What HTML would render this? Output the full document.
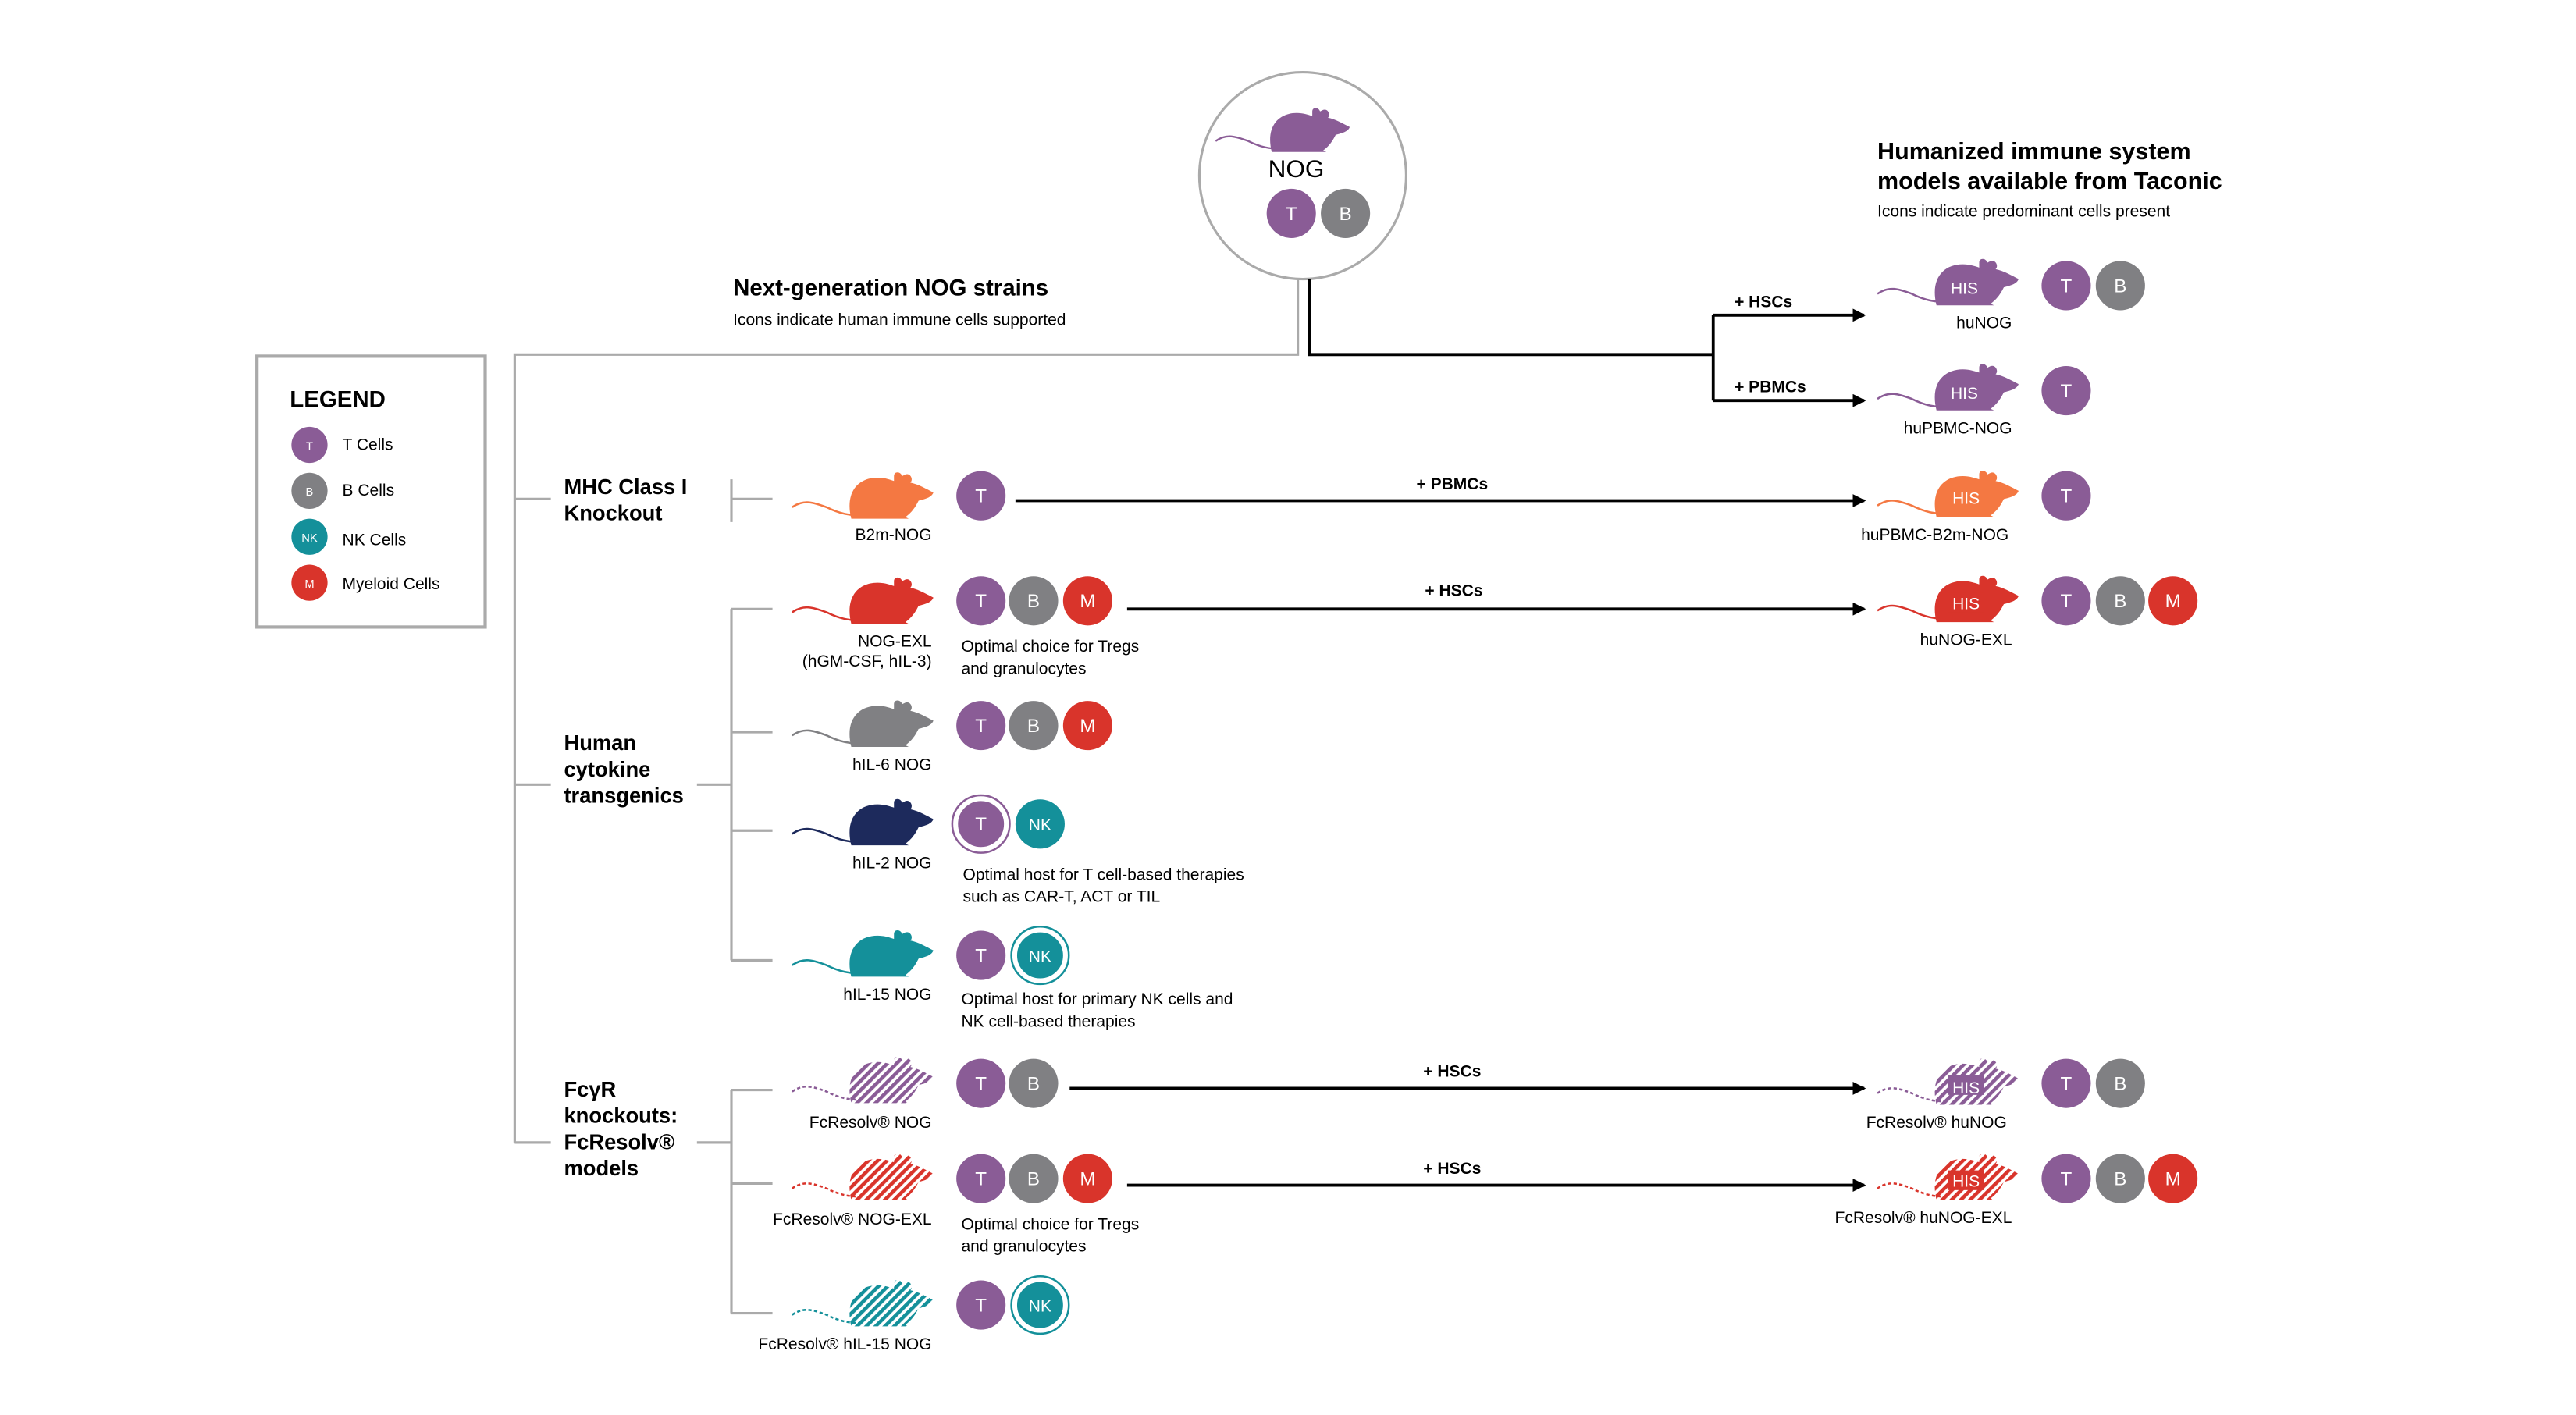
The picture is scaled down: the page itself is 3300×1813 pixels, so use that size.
<!DOCTYPE html>
<html><head><meta charset="utf-8"><style>
html,body{margin:0;padding:0;background:#fff}
svg{display:block}
text{font-family:"Liberation Sans",sans-serif}
</style></head><body>
<svg width="3300" height="1813" viewBox="0 0 1568 862" xmlns="http://www.w3.org/2000/svg">
<defs>
<g id="mouse">
<path d="M2,21 C9,16 15,18 23,21 C31,25 37,26 44,26" fill="none" stroke-width="1.2"/>
<path stroke="none" d="M38,28 C34,12 42,3 54,3 C58,3 61,4 64,5 L64,2 C64,-1 68,-1 69,2 L71,1 C74,0 76,4 74,6 C79,7 84,10 88,12 C87,15 83,16 79,17 C77,21 75,24 71,27 L73,28 Z"/>
</g>
<pattern id="hp" width="4" height="4" patternUnits="userSpaceOnUse" patternTransform="rotate(-45)"><rect width="4" height="2.2" fill="#8a5c96"/></pattern>
<pattern id="hr" width="4" height="4" patternUnits="userSpaceOnUse" patternTransform="rotate(-45)"><rect width="4" height="2.2" fill="#d9342b"/></pattern>
<pattern id="ht" width="4" height="4" patternUnits="userSpaceOnUse" patternTransform="rotate(-45)"><rect width="4" height="2.2" fill="#14909a"/></pattern>
<marker id="arr" markerWidth="8" markerHeight="8" refX="7" refY="4" orient="auto" markerUnits="userSpaceOnUse"><path d="M0,0 L8,4 L0,8 Z" fill="#000"/></marker>
</defs>

<g>
<circle cx="793" cy="107" r="63" fill="#fff" stroke="#aaa" stroke-width="1.5"/>
<use href="#mouse" transform="translate(738,66) scale(0.95)" fill="#8a5c96" stroke="#8a5c96"/>
<text x="789" y="108" font-size="15" text-anchor="middle">NOG</text>
</g>

<path d="M790,170 V216 H313 V696" fill="none" stroke="#aaa" stroke-width="1.5"/>
<path d="M313,304 H335 M313,478 H335 M313,696 H335" stroke="#aaa" stroke-width="1.5"/>
<path d="M445,292 V318 M445,304 H470 M424,478 H445 M445,371 V585 M445,371 H470 M445,446 H470 M445,506 H470 M445,585 H470 M424,696 H445 M445,664 V800 M445,664 H470 M445,721 H470 M445,800 H470" fill="none" stroke="#aaa" stroke-width="1.5"/>
<path d="M797,170 V216 H1043 M1043,192 V244" fill="none" stroke="#000" stroke-width="1.8"/>
<g stroke="#000" stroke-width="1.8" marker-end="url(#arr)">
<line x1="1043" y1="192" x2="1135" y2="192"/>
<line x1="1043" y1="244" x2="1135" y2="244"/>
<line x1="618" y1="305" x2="1135" y2="305"/>
<line x1="686" y1="371" x2="1135" y2="371"/>
<line x1="651" y1="663" x2="1135" y2="663"/>
<line x1="686" y1="722" x2="1135" y2="722"/>
</g>
<g font-size="10" font-weight="bold">
<text x="1056" y="187">+ HSCs</text>
<text x="1056" y="239">+ PBMCs</text>
<text x="884" y="298" text-anchor="middle">+ PBMCs</text>
<text x="885" y="363" text-anchor="middle">+ HSCs</text>
<text x="884" y="656" text-anchor="middle">+ HSCs</text>
<text x="884" y="715" text-anchor="middle">+ HSCs</text>
</g>

<text x="446" y="180" font-size="14" font-weight="bold">Next-generation NOG strains</text>
<text x="446" y="198" font-size="10">Icons indicate human immune cells supported</text>
<text x="1143" y="97" font-size="14.5" font-weight="bold">Humanized immune system</text>
<text x="1143" y="115" font-size="14.5" font-weight="bold">models available from Taconic</text>
<text x="1143" y="132" font-size="10">Icons indicate predominant cells present</text>

<g>
<rect x="156" y="217" width="139" height="165" fill="none" stroke="#aaa" stroke-width="2"/>
<text x="176" y="248" font-size="14" font-weight="bold">LEGEND</text>
<circle cx="188" cy="271" r="11" fill="#8a5c96"/><text x="188" y="274" font-size="7" fill="#fff" text-anchor="middle">T</text><text x="208" y="274" font-size="10">T Cells</text>
<circle cx="188" cy="299" r="11" fill="#808083"/><text x="188" y="302" font-size="7" fill="#fff" text-anchor="middle">B</text><text x="208" y="302" font-size="10">B Cells</text>
<circle cx="188" cy="327" r="11" fill="#14909a"/><text x="188" y="330" font-size="7" fill="#fff" text-anchor="middle">NK</text><text x="208" y="332" font-size="10">NK Cells</text>
<circle cx="188" cy="355" r="11" fill="#d9342b"/><text x="188" y="358" font-size="7" fill="#fff" text-anchor="middle">M</text><text x="208" y="359" font-size="10">Myeloid Cells</text>
</g>

<g font-size="13" font-weight="bold">
<text x="343" y="301"><tspan x="343">MHC Class I</tspan><tspan x="343" dy="16">Knockout</tspan></text>
<text x="343" y="457"><tspan x="343">Human</tspan><tspan x="343" dy="16">cytokine</tspan><tspan x="343" dy="16">transgenics</tspan></text>
<text x="343" y="668"><tspan x="343">FcγR</tspan><tspan x="343" dy="16">knockouts:</tspan><tspan x="343" dy="16">FcResolv®</tspan><tspan x="343" dy="16">models</tspan></text>
</g>

<g>
<use href="#mouse" transform="translate(480,288)" fill="#f47842" stroke="#f47842"/>
<use href="#mouse" transform="translate(480,352)" fill="#d9342b" stroke="#d9342b"/>
<use href="#mouse" transform="translate(480,427)" fill="#808083" stroke="#808083"/>
<use href="#mouse" transform="translate(480,487)" fill="#1d2a5c" stroke="#1d2a5c"/>
<use href="#mouse" transform="translate(480,567)" fill="#14909a" stroke="#14909a"/>
<use href="#mouse" transform="translate(480,644)" fill="url(#hp)" stroke="#8a5c96" stroke-dasharray="2 1.5"/>
<use href="#mouse" transform="translate(480,703)" fill="url(#hr)" stroke="#d9342b" stroke-dasharray="2 1.5"/>
<use href="#mouse" transform="translate(480,780)" fill="url(#ht)" stroke="#14909a" stroke-dasharray="2 1.5"/>
<use href="#mouse" transform="translate(1141,158)" fill="#8a5c96" stroke="#8a5c96"/>
<use href="#mouse" transform="translate(1141,222)" fill="#8a5c96" stroke="#8a5c96"/>
<use href="#mouse" transform="translate(1141,287)" fill="#f47842" stroke="#f47842"/>
<use href="#mouse" transform="translate(1141,351)" fill="#d9342b" stroke="#d9342b"/>
<use href="#mouse" transform="translate(1141,645)" fill="url(#hp)" stroke="#8a5c96" stroke-dasharray="2 1.5"/>
<use href="#mouse" transform="translate(1141,703)" fill="url(#hr)" stroke="#d9342b" stroke-dasharray="2 1.5"/>
</g>
<g font-size="10" fill="#fff">
<rect x="1185" y="168" width="22" height="12" fill="#8a5c96"/><text x="1196" y="179" text-anchor="middle">HIS</text>
<rect x="1185" y="232" width="22" height="12" fill="#8a5c96"/><text x="1196" y="243" text-anchor="middle">HIS</text>
<rect x="1186" y="297" width="22" height="12" fill="#f47842"/><text x="1197" y="307" text-anchor="middle">HIS</text>
<rect x="1186" y="361" width="22" height="12" fill="#d9342b"/><text x="1197" y="371" text-anchor="middle">HIS</text>
<rect x="1186" y="655" width="22" height="12" fill="#8a5c96"/><text x="1197" y="666" text-anchor="middle">HIS</text>
<rect x="1186" y="713" width="22" height="12" fill="#d9342b"/><text x="1197" y="723" text-anchor="middle">HIS</text>
</g>

<g font-size="10" text-anchor="end">
<text x="567" y="329">B2m-NOG</text>
<text x="567" y="394">NOG-EXL</text>
<text x="567" y="406">(hGM-CSF, hIL-3)</text>
<text x="567" y="469">hIL-6 NOG</text>
<text x="567" y="529">hIL-2 NOG</text>
<text x="567" y="609">hIL-15 NOG</text>
<text x="567" y="687">FcResolv® NOG</text>
<text x="567" y="746">FcResolv® NOG-EXL</text>
<text x="567" y="822">FcResolv® hIL-15 NOG</text>
</g>
<g font-size="10" text-anchor="middle">
<text x="1208" y="200">huNOG</text>
<text x="1192" y="264">huPBMC-NOG</text>
<text x="1178" y="329">huPBMC-B2m-NOG</text>
<text x="1197" y="393">huNOG-EXL</text>
<text x="1179" y="687">FcResolv® huNOG</text>
<text x="1171" y="745">FcResolv® huNOG-EXL</text>
</g>
<g font-size="10">
<text x="585" y="397"><tspan x="585">Optimal choice for Tregs</tspan><tspan x="585" dy="13.5">and granulocytes</tspan></text>
<text x="586" y="536"><tspan x="586">Optimal host for T cell-based therapies</tspan><tspan x="586" dy="13.5">such as CAR-T, ACT or TIL</tspan></text>
<text x="585" y="612"><tspan x="585">Optimal host for primary NK cells and</tspan><tspan x="585" dy="13.5">NK cell-based therapies</tspan></text>
<text x="585" y="749"><tspan x="585">Optimal choice for Tregs</tspan><tspan x="585" dy="13.5">and granulocytes</tspan></text>
</g>

<g id="cells"></g>
<script>
const cellX=[786,819, 1258,1291, 1258, 597, 1258, 597,629,662, 1258,1291,1323, 597,629,662, 597,633, 597,633, 597,629, 1258,1291, 597,629,662, 1258,1291,1323, 597,633];
const cellY=[130,130, 174,174, 238, 302, 302, 366,366,366, 366,366,366, 442,442,442, 502,502, 582,582, 660,660, 660,660, 718,718,718, 718,718,718, 795,795];
const cellType=["T","B","T","B","T","T","T","T","B","M","T","B","M","T","B","M","T","NK","T","NK","T","B","T","B","T","B","M","T","B","M","T","NK"];
const ringed=[16,19,31];
const colors={T:"#8a5c96",B:"#808083",NK:"#14909a",M:"#d9342b"};
const NS="http://www.w3.org/2000/svg";
const g=document.getElementById('cells');
cellType.forEach((t,i)=>{
  const c=document.createElementNS(NS,'circle');
  c.setAttribute('cx',cellX[i]);c.setAttribute('cy',cellY[i]);c.setAttribute('r',15);
  c.setAttribute('fill',colors[t]);
  if(ringed.includes(i)){c.setAttribute('stroke','#fff');c.setAttribute('stroke-width','2');}
  
  
  g.appendChild(c);
  if(ringed.includes(i)){
    const r=document.createElementNS(NS,'circle');
    r.setAttribute('cx',cellX[i]);r.setAttribute('cy',cellY[i]);r.setAttribute('r',17.5);
    r.setAttribute('fill','none');r.setAttribute('stroke',colors[t]);r.setAttribute('stroke-width','1.2');
    
    
    g.appendChild(r);
  }
  const tx=document.createElementNS(NS,'text');
  tx.setAttribute('x',cellX[i]);tx.setAttribute('y',cellY[i]+4);
  tx.setAttribute('text-anchor','middle');tx.setAttribute('fill','#fff');
  tx.setAttribute('font-size',t==='NK'?10:11.5);
  tx.textContent=t;
  
  
  g.appendChild(tx);
});
</script>
</svg>
</body></html>
